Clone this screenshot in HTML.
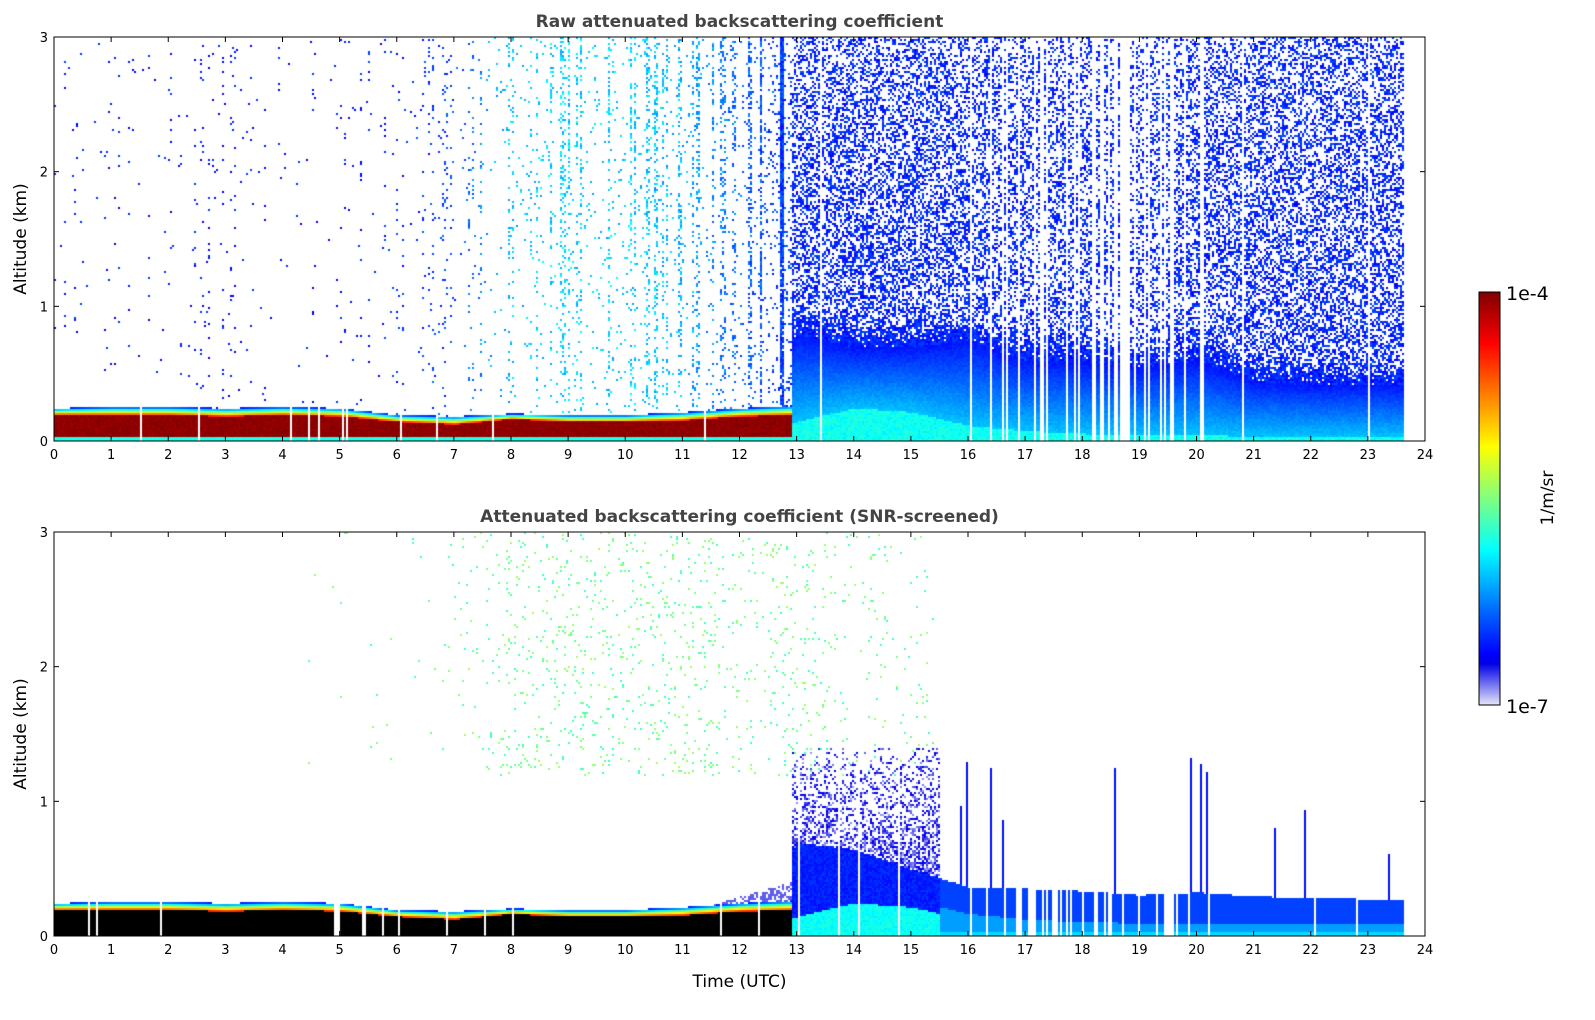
<!DOCTYPE html>
<html><head><meta charset="utf-8">
<style>
body{margin:0;background:#fff;width:1595px;height:1020px;overflow:hidden;font-family:"DejaVu Sans","Liberation Sans",sans-serif;}
canvas{position:absolute;}
svg{position:absolute;left:0;top:0;}
</style></head>
<body>
<canvas id="c1" width="1371" height="404" style="left:54px;top:37px"></canvas>
<canvas id="c2" width="1371" height="404" style="left:54px;top:532px"></canvas>
<svg id="ax" width="1595" height="1020"></svg>
<script>
// ---- data (per hour, 0..24) ----
const hours=[0,1,2,3,4,5,6,7,8,9,10,11,12,13,14,15,16,17,18,19,20,21,22,23,24];
const redTop=[0.2,0.2,0.2,0.19,0.2,0.19,0.15,0.13,0.17,0.15,0.15,0.16,0.19,0.2,0,0,0,0,0,0,0,0,0,0,0];
const layerTop=[0.25,0.26,0.26,0.25,0.26,0.25,0.2,0.19,0.21,0.2,0.2,0.22,0.25,0.27,0,0,0,0,0,0,0,0,0,0,0];
const blueTop=[0,0,0,0,0,0,0,0,0,0,0,0,0,0.8,0.7,0.7,0.75,0.6,0.6,0.55,0.6,0.45,0.42,0.42,0.42];
const cyanTop=[0,0,0,0,0,0,0,0,0,0,0,0,0,0.15,0.25,0.22,0.12,0.08,0.06,0.05,0.05,0.04,0.04,0.04,0.04];
const speckleDensity=[0.008,0.012,0.012,0.035,0.01,0.015,0.035,0.04,0.08,0.1,0.12,0.12,0.1,0.5,0.5,0.5,0.45,0.42,0.42,0.42,0.45,0.5,0.5,0.5,0.5];
const speckleLevel=[0.14,0.14,0.14,0.14,0.14,0.14,0.16,0.2,0.32,0.33,0.33,0.3,0.22,0.17,0.16,0.16,0.15,0.15,0.15,0.15,0.15,0.15,0.15,0.15,0.15];
const gapProb=[0.02,0.03,0.03,0.03,0.05,0.08,0.08,0.05,0.03,0.02,0.02,0.02,0.02,0.02,0.04,0.05,0.08,0.35,0.3,0.3,0.15,0.02,0.02,0.03,0.03];
const snrLayerTop=[0,0,0,0,0,0,0,0,0,0,0,0,0,0.7,0.65,0.5,0.37,0.36,0.34,0.31,0.33,0.3,0.29,0.28,0.28];
const snrSpeckle=[0,0,0,0,0,0.004,0.004,0.01,0.035,0.045,0.045,0.045,0.035,0.035,0.03,0.02,0,0,0,0,0,0,0,0,0];
const dataEnd=23.6, transition=12.9;
const xTicks=[0,1,2,3,4,5,6,7,8,9,10,11,12,13,14,15,16,17,18,19,20,21,22,23,24];
const yTicks=[0,1,2,3];

function interp(arr,t){const i=Math.min(23,Math.floor(t));const f=t-i;return arr[i]*(1-f)+arr[i+1]*f;}
let seed=12345;function rnd(){seed|=0;seed=seed+0x6D2B79F5|0;let t=Math.imul(seed^seed>>>15,1|seed);t=t+Math.imul(t^t>>>7,61|t)^t;return((t^t>>>14)>>>0)/4294967296;}
function jet(v){
  const c=x=>Math.max(0,Math.min(1,x))*255;
  if(v<0.1){const f=v/0.1;const e=[0,0,c(1.5-Math.abs(0.4-1))];return[230*(1-f)+e[0]*f,230*(1-f)+e[1]*f,250*(1-f)+e[2]*f];}
  return[c(1.5-Math.abs(4*v-3)),c(1.5-Math.abs(4*v-2)),c(1.5-Math.abs(4*v-1))];
}
const W=1371,H=404,xs=t=>t/24*W, ys=z=>H-z/3*H;
function draw(id,snr){
  const ctx=document.getElementById(id).getContext('2d');
  const img=ctx.createImageData(W,H);const d=img.data;
  for(let i=0;i<d.length;i++)d[i]=255;
  for(let cx=0;cx<W;cx+=2){
    const t=cx/W*24; if(t>dataEnd)continue;
    if(rnd()<interp(gapProb,t))continue;
    const streak=t<transition?(rnd()<0.25?3:0.35):1;
    const spike=snr&&t>15.5&&rnd()<0.04?0.6+0.9*rnd():0;
    const rt=interp(redTop,t),lt=interp(layerTop,t),bt=interp(blueTop,t),ct=interp(cyanTop,t);
    const sd=interp(speckleDensity,t)*streak,sl=interp(speckleLevel,t),st=interp(snrLayerTop,t),sg=interp(snrSpeckle,t);
    for(let ry=0;ry<H;ry+=2){
      const z=(H-ry)/H*3;let col=null;
      if(t<transition){
        if(z<0.03&&!snr) col=jet(0.4);
        else if(z<rt) col=snr?[0,0,0]:jet(0.97+0.03*rnd());
        else if(z<lt){const f=(z-rt)/(lt-rt);col=jet(0.85-0.7*f);}
        else if(!snr){ if(rnd()<sd*(0.6+0.4*z/3)) col=jet(sl+0.1*(rnd()-0.5)); }
        else { if(z>1.2&&rnd()<sg) col=jet(0.42+0.12*rnd()); else if(t>11.5&&z<lt+0.1*(t-11.5)&&rnd()<0.5) col=jet(0.06);}
      } else {
        if(!snr){
          if(z<ct) col=jet(0.36+0.06*rnd());
          else if(z<bt){const f=(z-ct)/(bt-ct);col=jet(0.3-0.17*f+0.03*rnd());}
          else { const p=Math.max(sd*(1-0.3*(z-bt)/3), 1-(z-bt)/0.4); if(rnd()<p) col=jet(0.12+0.08*rnd()); }
        } else {
          if(t<15.5){
            if(z<ct) col=jet(0.36+0.05*rnd());
            else if(z<st) col=jet(0.13+0.05*rnd());
            else if(z<1.4&&rnd()<0.4*(1.4-z)/0.7+0.1) col=jet(0.03+0.1*rnd());
            else if(z>1.2&&rnd()<sg) col=jet(0.42+0.12*rnd());
          } else {
            if(z<0.03) col=jet(0.34);
            else if(z<ct+0.05) col=jet(0.28);
            else if(z<st) col=jet(0.19);
            else if(z<spike) col=jet(0.14);
          }
        }
      }
      if(col){for(let a=0;a<2;a++)for(let b=0;b<2;b++){const px=cx+a,py=ry+b;if(px>=W||py>=H)continue;const k=(py*W+px)*4;d[k]=col[0];d[k+1]=col[1];d[k+2]=col[2];}}
    }
  }
  ctx.putImageData(img,0,0);
}
draw('c1',false);draw('c2',true);

// ---- axes ----
const NS='http://www.w3.org/2000/svg',svg=document.getElementById('ax');
function el(tag,attrs,txt){const e=document.createElementNS(NS,tag);for(const k in attrs)e.setAttribute(k,attrs[k]);if(txt!==undefined)e.textContent=txt;svg.appendChild(e);return e;}
function panel(top,title,name,showX){
  const L=54,T=top;
  const fr=el('rect',{x:L,y:T,width:W,height:H,fill:'none',stroke:'#000','stroke-width':1});
  
  xTicks.forEach(v=>{const x=L+xs(v);
    el('line',{x1:x,x2:x,y1:T+H,y2:T+H-5,stroke:'#000'});el('line',{x1:x,x2:x,y1:T,y2:T+5,stroke:'#000'});
    const tx=el('text',{x:x,y:T+H+18,'text-anchor':'middle','font-size':13},v);
    });
  yTicks.forEach(v=>{const y=T+ys(v);
    el('line',{x1:L,x2:L+5,y1:y,y2:y,stroke:'#000'});el('line',{x1:L+W,x2:L+W-5,y1:y,y2:y,stroke:'#000'});
    const ty=el('text',{x:L-6,y:y+5,'text-anchor':'end','font-size':13},v);
    });
  const tt=el('text',{x:L+W/2,y:T-10,'text-anchor':'middle','font-size':17,'font-weight':'bold',fill:'#444'},title);
  
  const yl=el('text',{x:0,y:0,transform:`translate(26,${T+H/2}) rotate(-90)`,'text-anchor':'middle','font-size':17},'Altitude (km)');
  
  if(showX){const xl=el('text',{x:L+W/2,y:T+H+51,'text-anchor':'middle','font-size':17},'Time (UTC)');
    }
}
panel(37,'Raw attenuated backscattering coefficient','raw-panel',false);
panel(532,'Attenuated backscattering coefficient (SNR-screened)','snr-panel',true);
// colorbar
const defs=el('defs',{});const g=document.createElementNS(NS,'linearGradient');g.setAttribute('id','cb');g.setAttribute('x1',0);g.setAttribute('y1',1);g.setAttribute('x2',0);g.setAttribute('y2',0);defs.appendChild(g);
for(let i=0;i<=40;i++){const v=i/40,c=jet(v);const s=document.createElementNS(NS,'stop');s.setAttribute('offset',v);s.setAttribute('stop-color',`rgb(${c.map(Math.round).join(',')})`);g.appendChild(s);}
const cb=el('rect',{x:1479,y:292,width:21,height:413,fill:'url(#cb)',stroke:'#000'});

const c1=el('text',{x:1506,y:300,'font-size':19},'1e-4');
const c2=el('text',{x:1506,y:713,'font-size':19},'1e-7');
const cu=el('text',{x:0,y:0,transform:'translate(1553,498) rotate(-90)','text-anchor':'middle','font-size':17},'1/m/sr');

</script>
</body></html>
